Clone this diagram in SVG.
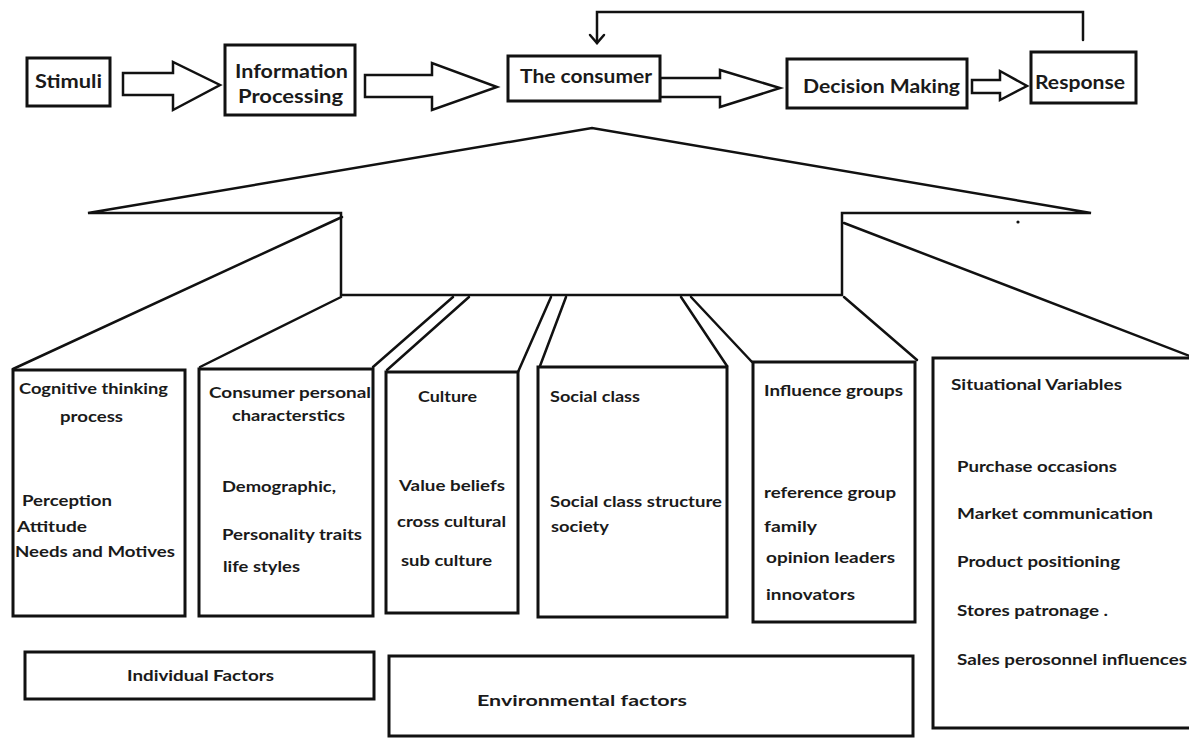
<svg xmlns="http://www.w3.org/2000/svg" width="1189" height="738" viewBox="0 0 1189 738">
<style>
.bx{fill:#fff;stroke:#111;stroke-width:3}
.ln{fill:none;stroke:#111;stroke-width:2.5;stroke-linecap:round;stroke-linejoin:miter}
.ar{fill:#fff;stroke:#111;stroke-width:2.5;stroke-linejoin:miter}
text{font-family:Lato,"Open Sans","Liberation Sans",sans-serif;font-weight:700;fill:#1a1a1a;font-size:16px}
.t{font-size:18px}
</style>
<rect width="1189" height="738" fill="#fff"/>
<g id="connectors">
<path class="ar" d="M123,73 L173,73 L173,62 L220,85 L173,110 L173,95 L123,95 Z"/>
<path class="ar" d="M365,75 L432,75 L432,63 L497,87 L432,110 L432,97 L365,97 Z"/>
<path class="ar" d="M660,78 L720,78 L720,70 L780,88 L720,107 L720,97 L660,97 Z"/>
<path class="ar" d="M972,80 L1000,80 L1000,71 L1027,86 L1000,100 L1000,93 L972,93 Z"/>
<path class="ln" d="M1083,40 L1083,12 L597,12 L597,43"/>
<path class="ln" d="M590,35 L597,43 L604,35"/>
<path class="ln" d="M88,213 L592,128 L1091,213 L842,213 L842,295 L341,295 L341,213 Z"/>
<path class="ln" d="M342,217 L13,369"/>
<path class="ln" d="M341,297 L200,367"/>
<path class="ln" d="M453,297 L373,367"/>
<path class="ln" d="M469,297 L387,370"/>
<path class="ln" d="M551,297 L518,372"/>
<path class="ln" d="M566,297 L540,366"/>
<path class="ln" d="M681,297 L727,366"/>
<path class="ln" d="M691,297 L752,362"/>
<path class="ln" d="M844,297 L917,360"/>
<path class="ln" d="M844,223 L1200,360"/>
<circle cx="1018" cy="222" r="1.6" fill="#111"/>
</g>
<g id="stimuli"><rect class="bx" x="27" y="58" width="83" height="48"/><text class="t" x="35" y="88" textLength="67" lengthAdjust="spacingAndGlyphs">Stimuli</text></g>
<g id="information-processing"><rect class="bx" x="225" y="45" width="130" height="70"/><text class="t" x="235" y="78" textLength="113" lengthAdjust="spacingAndGlyphs">Information</text><text class="t" x="238" y="103" textLength="105" lengthAdjust="spacingAndGlyphs">Processing</text></g>
<g id="the-consumer"><rect class="bx" x="508" y="56" width="152" height="45"/><text class="t" x="520" y="83" textLength="132" lengthAdjust="spacingAndGlyphs">The consumer</text></g>
<g id="decision-making"><rect class="bx" x="787" y="59" width="180" height="49"/><text class="t" x="803" y="93" textLength="157" lengthAdjust="spacingAndGlyphs">Decision Making</text></g>
<g id="response"><rect class="bx" x="1031" y="52" width="105" height="51"/><text class="t" x="1035" y="89" textLength="90" lengthAdjust="spacingAndGlyphs">Response</text></g>
<g id="cognitive"><rect class="bx" x="13" y="370" width="172" height="246"/>
<text x="19" y="394" textLength="149" lengthAdjust="spacingAndGlyphs">Cognitive thinking</text>
<text x="60" y="422" textLength="63" lengthAdjust="spacingAndGlyphs">process</text>
<text x="22" y="506" textLength="90" lengthAdjust="spacingAndGlyphs">Perception</text>
<text x="17" y="532" textLength="70" lengthAdjust="spacingAndGlyphs">Attitude</text>
<text x="15" y="557" textLength="160" lengthAdjust="spacingAndGlyphs">Needs and Motives</text></g>
<g id="personal"><rect class="bx" x="199" y="369" width="174" height="247"/>
<text x="209" y="398" textLength="162" lengthAdjust="spacingAndGlyphs">Consumer personal</text>
<text x="232" y="421" textLength="113" lengthAdjust="spacingAndGlyphs">characterstics</text>
<text x="222" y="492" textLength="114" lengthAdjust="spacingAndGlyphs">Demographic,</text>
<text x="222" y="540" textLength="140" lengthAdjust="spacingAndGlyphs">Personality traits</text>
<text x="223" y="572" textLength="77" lengthAdjust="spacingAndGlyphs">life styles</text></g>
<g id="culture"><rect class="bx" x="386" y="372" width="132" height="241"/>
<text x="418" y="402" textLength="59" lengthAdjust="spacingAndGlyphs">Culture</text>
<text x="399" y="491" textLength="106" lengthAdjust="spacingAndGlyphs">Value beliefs</text>
<text x="397" y="527" textLength="109" lengthAdjust="spacingAndGlyphs">cross cultural</text>
<text x="401" y="566" textLength="91" lengthAdjust="spacingAndGlyphs">sub culture</text></g>
<g id="social-class"><rect class="bx" x="538" y="367" width="189" height="250"/>
<text x="550" y="402" textLength="90" lengthAdjust="spacingAndGlyphs">Social class</text>
<text x="550" y="507" textLength="172" lengthAdjust="spacingAndGlyphs">Social class structure</text>
<text x="551" y="532" textLength="58" lengthAdjust="spacingAndGlyphs">society</text></g>
<g id="influence"><rect class="bx" x="753" y="362" width="162" height="260"/>
<text x="764" y="396" textLength="139" lengthAdjust="spacingAndGlyphs">Influence groups</text>
<text x="764" y="498" textLength="132" lengthAdjust="spacingAndGlyphs">reference group</text>
<text x="764" y="532" textLength="53" lengthAdjust="spacingAndGlyphs">family</text>
<text x="766" y="563" textLength="129" lengthAdjust="spacingAndGlyphs">opinion leaders</text>
<text x="766" y="600" textLength="89" lengthAdjust="spacingAndGlyphs">innovators</text></g>
<g id="situational"><path class="bx" d="M1192,358 L933,358 L933,728 L1192,728"/>
<text x="951" y="390" textLength="171" lengthAdjust="spacingAndGlyphs">Situational Variables</text>
<text x="957" y="472" textLength="160" lengthAdjust="spacingAndGlyphs">Purchase occasions</text>
<text x="957" y="519" textLength="196" lengthAdjust="spacingAndGlyphs">Market communication</text>
<text x="957" y="567" textLength="163" lengthAdjust="spacingAndGlyphs">Product positioning</text>
<text x="957" y="616" textLength="151" lengthAdjust="spacingAndGlyphs">Stores patronage .</text>
<text x="957" y="665" textLength="230" lengthAdjust="spacingAndGlyphs">Sales perosonnel influences</text></g>
<g id="individual-factors"><rect class="bx" x="25" y="652" width="349" height="47"/>
<text x="127" y="681" textLength="147" lengthAdjust="spacingAndGlyphs">Individual Factors</text></g>
<g id="environmental-factors"><rect class="bx" x="389" y="656" width="524" height="80"/>
<text x="477" y="706" textLength="210" lengthAdjust="spacingAndGlyphs">Environmental factors</text></g>
</svg>
